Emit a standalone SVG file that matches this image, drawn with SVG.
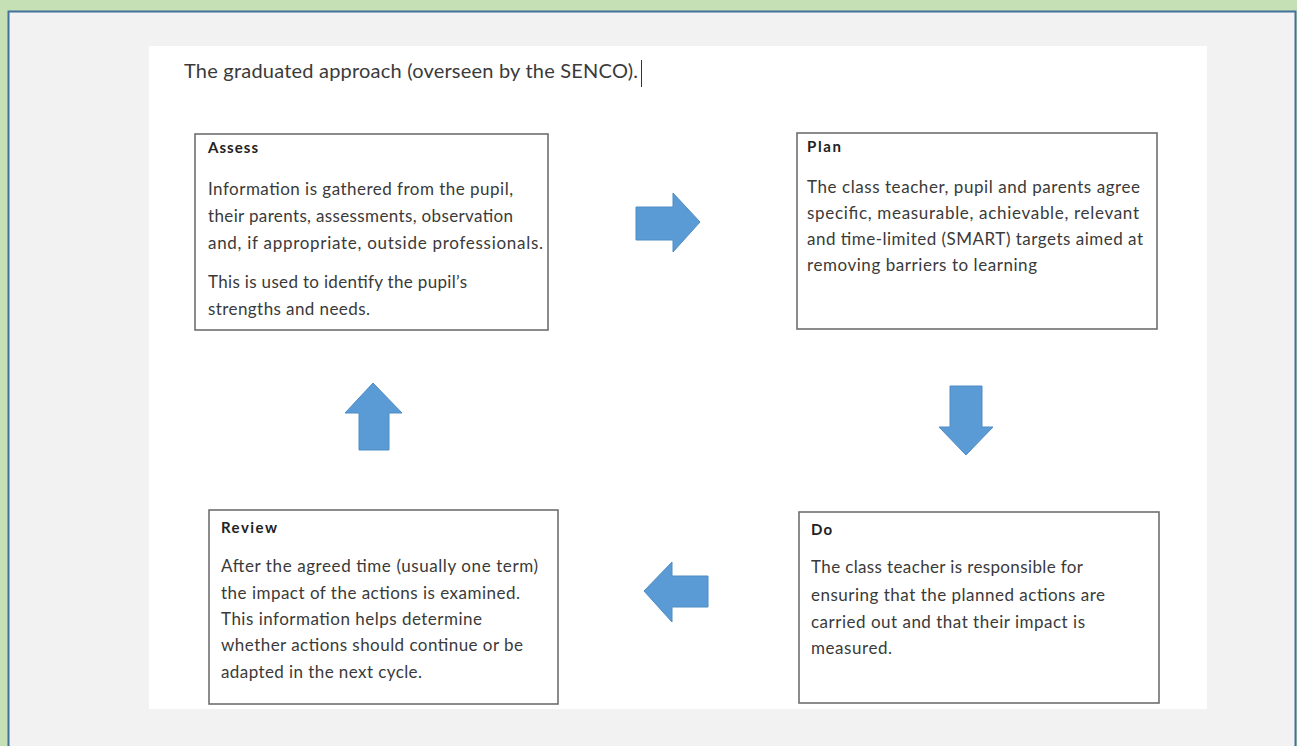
<svg xmlns="http://www.w3.org/2000/svg" width="1297" height="746" viewBox="0 0 1297 746">
<style>
.box{fill:#ffffff;stroke:#6f6f6f;stroke-width:1.6}
.hd{font-family:Lato,"Liberation Sans",sans-serif;font-weight:bold;font-size:15px;fill:#222}
.tx{font-family:Lato,"Liberation Sans",sans-serif;font-size:17px;fill:#3a3a3a}
.ti{font-family:Lato,"Liberation Sans",sans-serif;font-size:20px;fill:#3a3a3a}
.arr{fill:#5b9bd5;stroke:#4f8cc4;stroke-width:1}
</style>
<rect x="0" y="0" width="1297" height="746" fill="#c5e0b4"/>
<rect x="8.5" y="11.5" width="1287" height="760" fill="#f2f2f2" stroke="#41719c" stroke-width="2"/>
<rect x="149" y="46" width="1058" height="663" fill="#ffffff"/>
<g id="title">
<text class="ti" x="184" y="78" textLength="454">The graduated approach (overseen by the SENCO).</text>
<line x1="641.5" y1="60" x2="641.5" y2="87" stroke="#333" stroke-width="1"/>
</g>
<g id="assess">
<rect class="box" x="195" y="134" width="353" height="196"/>
<text class="hd" x="208" y="153" textLength="50">Assess</text>
<text class="tx" x="208" y="195" textLength="305">Information is gathered from the pupil,</text>
<text class="tx" x="208" y="222" textLength="305">their parents, assessments, observation</text>
<text class="tx" x="208" y="249" textLength="335">and, if appropriate, outside professionals.</text>
<text class="tx" x="208" y="288" textLength="259">This is used to identify the pupil’s</text>
<text class="tx" x="208" y="315" textLength="162">strengths and needs.</text>
</g>
<g id="plan">
<rect class="box" x="797" y="133" width="360" height="196"/>
<text class="hd" x="807" y="152" textLength="34">Plan</text>
<text class="tx" x="807" y="193" textLength="333">The class teacher, pupil and parents agree</text>
<text class="tx" x="807" y="219" textLength="332">specific, measurable, achievable, relevant</text>
<text class="tx" x="807" y="245" textLength="336">and time-limited (SMART) targets aimed at</text>
<text class="tx" x="807" y="271" textLength="230">removing barriers to learning</text>
</g>
<g id="do">
<rect class="box" x="799" y="512" width="360" height="191"/>
<text class="hd" x="811" y="535" textLength="21">Do</text>
<text class="tx" x="811" y="573" textLength="272">The class teacher is responsible for</text>
<text class="tx" x="811" y="601" textLength="294">ensuring that the planned actions are</text>
<text class="tx" x="811" y="628" textLength="274">carried out and that their impact is</text>
<text class="tx" x="811" y="654" textLength="81">measured.</text>
</g>
<g id="review">
<rect class="box" x="209" y="510" width="349" height="194"/>
<text class="hd" x="221" y="533" textLength="56">Review</text>
<text class="tx" x="221" y="572" textLength="317">After the agreed time (usually one term)</text>
<text class="tx" x="221" y="599" textLength="299">the impact of the actions is examined.</text>
<text class="tx" x="221" y="625" textLength="261">This information helps determine</text>
<text class="tx" x="221" y="651" textLength="302">whether actions should continue or be</text>
<text class="tx" x="221" y="678" textLength="201">adapted in the next cycle.</text>
</g>
<g id="connectors">
<polygon class="arr" points="636,207 673,207 673,193 700,222 673,252 673,240 636,240"/>
<polygon class="arr" points="950,386 982,386 982,427 993,427 966,455 939,427 950,427"/>
<polygon class="arr" points="644,591 672,562 672,576 708,576 708,607 672,607 672,622"/>
<polygon class="arr" points="373,383 402,413 389,413 389,450 359,450 359,413 345,413"/>
</g>
</svg>
